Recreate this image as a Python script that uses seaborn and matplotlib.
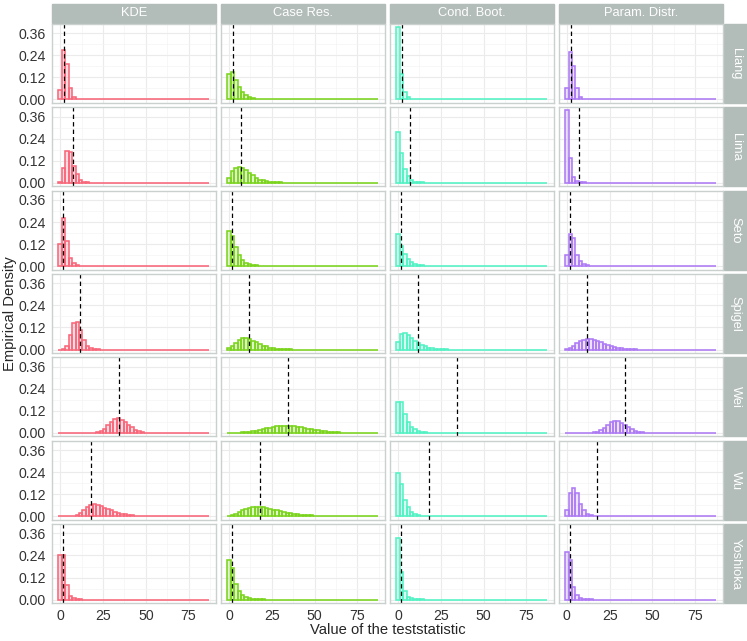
import numpy as np
import pandas as pd
import seaborn as sns
from matplotlib import pyplot as plt
from matplotlib.patches import Rectangle

methods = ["KDE", "Case Res.", "Cond. Boot.", "Param. Distr."]
datasets = ["Liang", "Lima", "Seto", "Spigel", "Wei", "Wu", "Yoshioka"]
colors = ["#F8677A", "#7AD41C", "#52F2C4", "#AE7BF4"]

# observed test statistic per data set (dashed lines)
observed = [2.5, 7.2, 1.9, 11.5, 34.2, 17.9, 1.6]

# histogram heights, bins of width 2 centred at 0, 2, 4, ...
liang_kde = [0.049, 0.267, 0.195, 0.062, 0.013, 0.004, 0.001]
liang_case = [0.137, 0.148, 0.108, 0.068, 0.040, 0.026, 0.013, 0.008, 0.005, 0.003, 0.002, 0.001, 0.001]
liang_cond = [0.393, 0.137, 0.040, 0.012, 0.005, 0.002, 0.001]
liang_param = [0.064, 0.256, 0.183, 0.062, 0.013, 0.004, 0.001]

lima_kde = [0.007, 0.082, 0.174, 0.165, 0.093, 0.046, 0.018, 0.007, 0.003, 0.001]
lima_case = [0.026, 0.064, 0.080, 0.088, 0.080, 0.068, 0.053, 0.040, 0.027, 0.018, 0.013, 0.009,
             0.006, 0.004, 0.003, 0.002, 0.001]
lima_cond = [0.276, 0.163, 0.077, 0.037, 0.016, 0.007, 0.004, 0.002, 0.001]
lima_param = [0.397, 0.137, 0.031, 0.011, 0.004, 0.002, 0.001]

seto_kde = [0.122, 0.262, 0.139, 0.046, 0.017, 0.007, 0.003, 0.001]
seto_case = [0.189, 0.165, 0.106, 0.059, 0.032, 0.019, 0.011, 0.007, 0.004, 0.003, 0.002, 0.001]
seto_cond = [0.174, 0.109, 0.065, 0.037, 0.022, 0.013, 0.008, 0.005, 0.003, 0.002, 0.001]
seto_param = [0.063, 0.174, 0.152, 0.063, 0.026, 0.011, 0.005, 0.002, 0.001]

spigel_kde = [0.0, 0.001, 0.022, 0.078, 0.143, 0.152, 0.106, 0.050, 0.020, 0.007, 0.003, 0.001]
spigel_case = [0.007, 0.019, 0.037, 0.054, 0.061, 0.063, 0.058, 0.048, 0.039, 0.030, 0.022, 0.017,
               0.011, 0.007, 0.005, 0.004, 0.003, 0.002, 0.001]
spigel_cond = [0.041, 0.083, 0.089, 0.080, 0.063, 0.046, 0.033, 0.024, 0.017, 0.011, 0.007, 0.005,
               0.003, 0.002, 0.001]
spigel_param = [0.004, 0.011, 0.022, 0.033, 0.045, 0.052, 0.056, 0.056, 0.052, 0.046, 0.039, 0.032,
                0.024, 0.019, 0.013, 0.009, 0.006, 0.004, 0.003, 0.002, 0.001]

wei_kde = [0, 0, 0, 0, 0, 0, 0, 0, 0, 0.001, 0.002, 0.005, 0.012, 0.022, 0.042, 0.062, 0.075, 0.079,
           0.072, 0.060, 0.045, 0.030, 0.018, 0.010, 0.005, 0.002, 0.001]
wei_case = [0.0, 0.0, 0.001, 0.002, 0.003, 0.005, 0.007, 0.010, 0.013, 0.017, 0.021, 0.025, 0.029,
            0.033, 0.036, 0.038, 0.039, 0.039, 0.038, 0.036, 0.033, 0.030, 0.027, 0.023, 0.020, 0.017,
            0.014, 0.011, 0.009, 0.007, 0.005, 0.004, 0.003, 0.002, 0.002, 0.001, 0.001]
wei_cond = [0.167, 0.167, 0.103, 0.060, 0.032, 0.019, 0.009, 0.005, 0.003, 0.002, 0.001]
wei_param = [0, 0, 0, 0, 0, 0, 0, 0.001, 0.003, 0.006, 0.016, 0.028, 0.044, 0.060, 0.066, 0.066,
             0.056, 0.042, 0.030, 0.020, 0.012, 0.007, 0.004, 0.002, 0.001]

wu_kde = [0, 0, 0, 0.001, 0.003, 0.008, 0.018, 0.034, 0.052, 0.063, 0.066, 0.062, 0.055, 0.047, 0.040,
          0.032, 0.025, 0.019, 0.015, 0.011, 0.008, 0.006, 0.004, 0.003, 0.002, 0.001]
wu_case = [0.002, 0.006, 0.014, 0.024, 0.032, 0.039, 0.045, 0.049, 0.050, 0.050, 0.048, 0.045, 0.041,
           0.036, 0.032, 0.028, 0.024, 0.020, 0.017, 0.014, 0.011, 0.009, 0.007, 0.006, 0.005, 0.004,
           0.003, 0.002, 0.002, 0.001, 0.001]
wu_cond = [0.234, 0.176, 0.090, 0.051, 0.024, 0.013, 0.007, 0.004, 0.002, 0.001]
wu_param = [0.032, 0.129, 0.154, 0.129, 0.069, 0.032, 0.013, 0.006, 0.003, 0.001]

yoshioka_kde = [0.240, 0.240, 0.079, 0.020, 0.007, 0.003, 0.001]
yoshioka_case = [0.218, 0.172, 0.085, 0.046, 0.024, 0.015, 0.007, 0.004, 0.003, 0.002, 0.001]
yoshioka_cond = [0.337, 0.151, 0.046, 0.016, 0.007, 0.003, 0.002, 0.001]
yoshioka_param = [0.260, 0.215, 0.069, 0.024, 0.009, 0.004, 0.002, 0.001]

table = {
    "Liang": [liang_kde, liang_case, liang_cond, liang_param],
    "Lima": [lima_kde, lima_case, lima_cond, lima_param],
    "Seto": [seto_kde, seto_case, seto_cond, seto_param],
    "Spigel": [spigel_kde, spigel_case, spigel_cond, spigel_param],
    "Wei": [wei_kde, wei_case, wei_cond, wei_param],
    "Wu": [wu_kde, wu_case, wu_cond, wu_param],
    "Yoshioka": [yoshioka_kde, yoshioka_case, yoshioka_cond, yoshioka_param],
}

centers = np.arange(0, 87, 2)

rows = []
for ds in datasets:
    for m, vals in zip(methods, table[ds]):
        h = np.zeros(len(centers))
        h[:len(vals)] = vals
        for c, v in zip(centers, h):
            rows.append((ds, m, c, v))
df = pd.DataFrame(rows, columns=["dataset", "method", "value", "density"])

sns.set_style("white")
plt.rcParams['font.family'] = ['Liberation Sans', 'DejaVu Sans']

fig, axes = plt.subplots(7, 4, figsize=(7.47, 6.41), dpi=100, sharex=True, sharey=True)
fig.subplots_adjust(left=0.0696, right=0.968, top=0.9626, bottom=0.0593, wspace=0.027, hspace=0.058)

strip_col = "#B2BCB9"
for i, ds in enumerate(datasets):
    for j, m in enumerate(methods):
        ax = axes[i, j]
        sub = df[(df.dataset == ds) & (df.method == m)]
        sns.histplot(data=sub, x="value", weights="density", binwidth=2, binrange=(-1, 87), ax=ax,
                     color=colors[j], edgecolor=colors[j], alpha=0.22, linewidth=1.15)
        ax.axvline(observed[i], color="black", ls=(0, (3.5, 2.5)), lw=0.9)
        ax.set_xlim(-4.8, 91.3)
        ax.set_ylim(-0.018, 0.41)
        ax.set_xticks([0, 25, 50, 75])
        ax.set_xticks([12.5, 37.5, 62.5, 87.5], minor=True)
        ax.set_yticks([0.0, 0.12, 0.24, 0.36])
        ax.set_yticks([0.06, 0.18, 0.30], minor=True)
        ax.set_yticklabels(["0.00", "0.12", "0.24", "0.36"])
        ax.grid(which="major", color="#EBEBEB", lw=0.8)
        ax.grid(which="minor", color="#F4F4F4", lw=0.5)
        ax.set_axisbelow(True)
        ax.set_xlabel("")
        ax.set_ylabel("")
        for s in ax.spines.values():
            s.set_color("#C9D0CD")
            s.set_linewidth(1.0)
        ax.tick_params(which="minor", length=0)
        ax.tick_params(which="major", length=0, labelsize=10.2, labelcolor="#333333", pad=2)
        if j == 0:
            ax.tick_params(axis="y", which="major", length=2.5, color="#AAAAAA")
        if i == 6:
            ax.tick_params(axis="x", which="major", length=2.5, color="#AAAAAA")
        if i == 0:
            ax.add_patch(Rectangle((0, 1.012), 1, 0.245, transform=ax.transAxes,
                                   color=strip_col, clip_on=False))
            ax.text(0.5, 1.135, m, transform=ax.transAxes, ha="center", va="center",
                    color="white", fontsize=9.3)
        if j == 3:
            ax.add_patch(Rectangle((1.008, 0), 0.135, 1, transform=ax.transAxes,
                                   color=strip_col, clip_on=False))
            ax.text(1.076, 0.5, ds, transform=ax.transAxes, ha="center", va="center",
                    color="white", fontsize=9.3, rotation=-90)

fig.text(0.013, 0.511, "Empirical Density", rotation=90, ha="center", va="center", fontsize=10.6)
fig.text(0.519, 0.017, "Value of the teststatistic", ha="center", va="center", fontsize=10.6)

plt.savefig("out.png", dpi=100)
